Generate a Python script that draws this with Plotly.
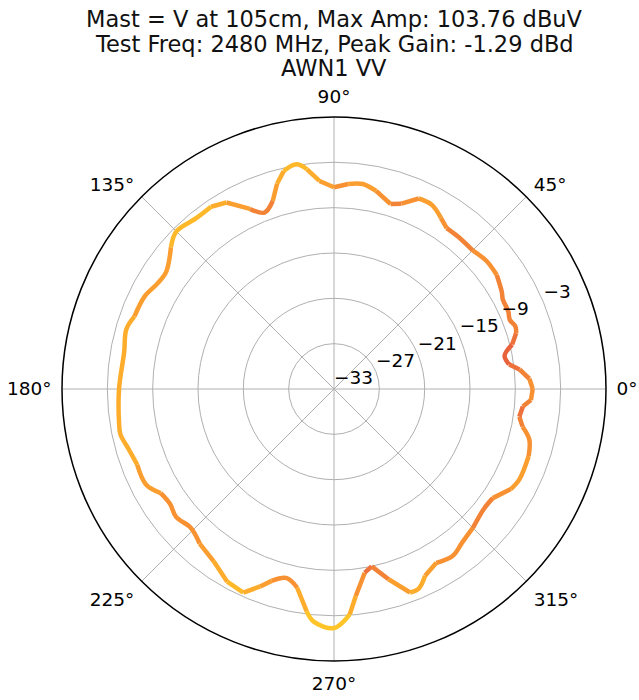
import plotly.graph_objects as go

# Angles (degrees) and relative gain (dB)
theta_deg = [0, 3, 6, 8, 11, 14, 17, 19, 21.5, 24, 28, 30, 35, 40, 45, 51, 55, 58,
             62, 66, 70, 73, 78, 82, 86, 90, 94, 97, 99.5, 103, 105.5, 108, 111.5,
             115, 120, 124, 129, 135, 139, 145, 149, 154, 160, 164, 170, 180, 189,
             192, 196.5, 201, 207, 211, 215, 219, 224, 229, 235, 241, 246, 249.5,
             252, 256, 259.5, 263, 265, 270, 274, 276, 279.5, 282, 286, 290.5, 293,
             296, 300.5, 305.5, 310, 315, 321.5, 325.5, 330.5, 334, 341, 345.5,
             348.7, 351.5, 354.7, 356.8, 360]
gain_db = [-6.7, -7.1, -8.3, -9.6, -10.0, -8.7, -7.8, -7.6, -8.0, -7.75, -7.7, -7.35,
           -6.7, -6.65, -7.05, -7.0, -7.0, -6.3, -5.4, -5.4, -6.9, -7.4, -6.2, -5.6,
           -5.8, -6.3, -5.4, -3.7, -2.85, -3.4, -4.8, -6.8, -7.9, -6.7, -4.5, -3.9,
           -3.95, -3.5, -4.4, -5.9, -5.8, -5.1, -4.9, -4.4, -4.8, -4.55, -4.2, -4.1,
           -4.7, -5.1, -5.1, -6.25, -6.5, -6.1, -6.6, -5.9, -5.2, -3.85, -3.5, -5.1,
           -6.3, -7.2, -6.25, -3.35, -2.1, -1.35, -3.1, -5.45, -8.35, -9.0, -6.8,
           -4.25, -4.3, -5.5, -6.3, -5.9, -6.55, -7.0, -7.6, -7.5, -6.1, -5.7, -5.75,
           -6.3, -7.55, -8.2, -7.9, -6.9, -6.7]

radial_ticks = [-33, -27, -21, -15, -9, -3]
radial_labels = ["\u221233", "\u221227", "\u221221", "\u221215", "\u22129", "\u22123"]
angle_ticks = [0, 45, 90, 135, 180, 225, 270, 315]
angle_labels = [f"{a}\u00b0" for a in angle_ticks]

title_lines = ["Mast = V at 105cm, Max Amp: 103.76 dBuV",
               "Test Freq: 2480 MHz, Peak Gain: -1.29 dBd",
               "AWN1 VV"]

# colour bins (low gain -> red-orange, high gain -> yellow)
bin_edges = [-9, -8, -7, -6, -5, -4, -3]
bin_colors = ["#e8623c", "#ed713a", "#f28236", "#f79132", "#fa9e2f", "#fdac2c",
              "#feb92a", "#ffc428"]

W, H = 639, 700


def color_bin(v):
    b = 0
    for e in bin_edges:
        if v > e:
            b += 1
    return b


fig = go.Figure()

# split the curve into runs of equal colour bin (segments share end points)
n = len(gain_db)
seg_bins = [color_bin((gain_db[i] + gain_db[i + 1]) / 2) for i in range(n - 1)]
start = 0
for i in range(1, n):
    if i == n - 1 or seg_bins[i] != seg_bins[start]:
        idx = list(range(start, i + 1))
        fig.add_trace(go.Scatterpolar(
            r=[gain_db[k] for k in idx], theta=[theta_deg[k] for k in idx],
            mode="lines",
            line=dict(color=bin_colors[seg_bins[start]], width=4.5, shape="spline",
                      smoothing=1.0),
            hoverinfo="skip", showlegend=False))
        start = i

# radial tick labels, placed through the polar axes
fig.add_trace(go.Scatterpolar(
    r=radial_ticks, theta=[22.5] * len(radial_ticks), mode="text",
    text=radial_labels, textposition="top right",
    textfont=dict(size=18.5, color="black", family="DejaVu Sans"),
    hoverinfo="skip", showlegend=False, cliponaxis=False))

title_font = dict(size=22.5, family="DejaVu Sans", color="#111111")
title_y = [19, 43.5, 68]
annotations = [
    dict(text=t, x=334 / W, y=1 - yy / H, xref="paper", yref="paper",
         xanchor="center", yanchor="middle", showarrow=False, font=title_font)
    for t, yy in zip(title_lines, title_y)
]

fig.update_layout(
    width=W, height=H,
    margin=dict(l=0, r=0, t=0, b=0),
    paper_bgcolor="white",
    font=dict(family="DejaVu Sans", size=18.5, color="black"),
    annotations=annotations,
    polar=dict(
        domain=dict(x=[62 / W, 606 / W], y=[39 / H, 583 / H]),
        bgcolor="white",
        angularaxis=dict(direction="counterclockwise", rotation=0,
                         tickmode="array", tickvals=angle_ticks, ticktext=angle_labels,
                         showline=True, linecolor="black", linewidth=1.5,
                         gridcolor="#b0b0b0", gridwidth=1,
                         ticks="outside", ticklen=6, tickcolor="rgba(0,0,0,0)",
                         tickfont=dict(size=18.5)),
        radialaxis=dict(range=[-33, 3], tickmode="array", tickvals=radial_ticks,
                        showticklabels=False, angle=22.5,
                        showline=False, ticks="",
                        gridcolor="#b0b0b0", gridwidth=1),
    ),
    showlegend=False,
)

fig.write_html("out.html",
               config={"displayModeBar": False},
               post_script="document.body.style.margin='0';"
                           "document.body.style.overflow='hidden';")
